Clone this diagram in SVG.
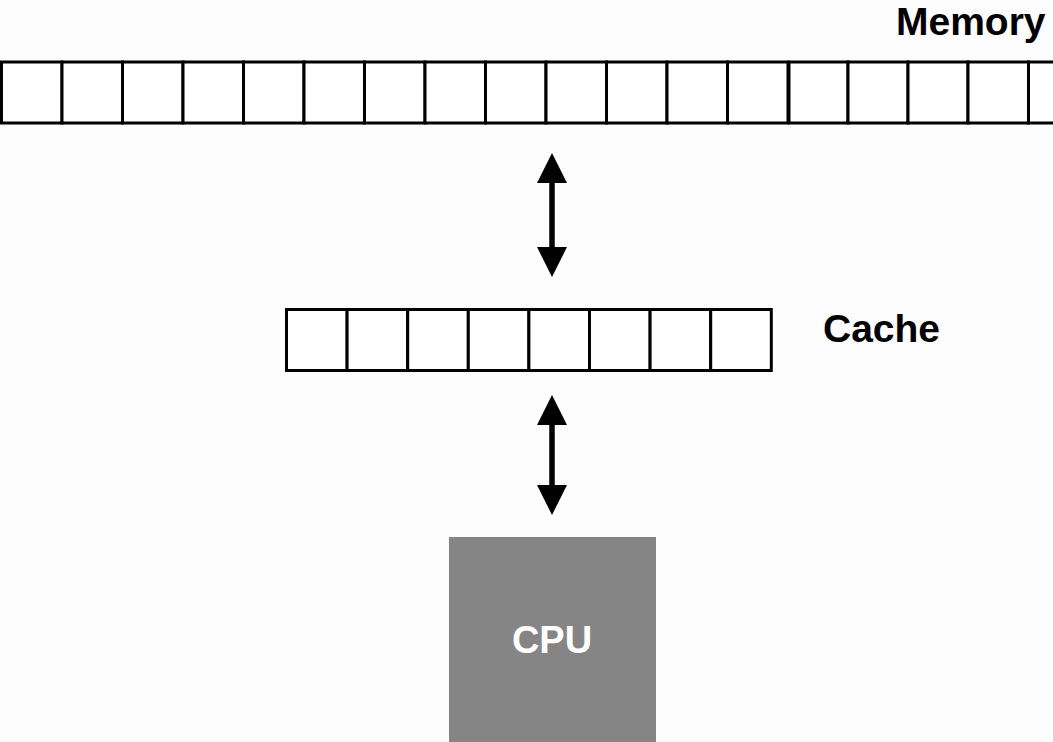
<svg xmlns="http://www.w3.org/2000/svg" width="1053" height="742" viewBox="0 0 1053 742">
<defs>
<style>
.cell{fill:#ffffff;stroke:#000000;stroke-width:3}
.lbl{font-family:"Liberation Sans",Arial,sans-serif;font-weight:bold;font-size:39px;fill:#000}
.shaft{stroke:#000;stroke-width:5.5}
.head{fill:#000}
</style>
</defs>
<rect width="1053" height="742" fill="#fdfdfd"/>
<g id="memory">
<rect class="cell" x="1.5" y="62" width="60.5" height="61"/>
<rect class="cell" x="62" y="62" width="60.5" height="61"/>
<rect class="cell" x="122.5" y="62" width="60.5" height="61"/>
<rect class="cell" x="183" y="62" width="60.5" height="61"/>
<rect class="cell" x="243.5" y="62" width="60.5" height="61"/>
<rect class="cell" x="304" y="62" width="60.5" height="61"/>
<rect class="cell" x="364.5" y="62" width="60.5" height="61"/>
<rect class="cell" x="425" y="62" width="60.5" height="61"/>
<rect class="cell" x="485.5" y="62" width="60.5" height="61"/>
<rect class="cell" x="546" y="62" width="60.5" height="61"/>
<rect class="cell" x="606.5" y="62" width="60.5" height="61"/>
<rect class="cell" x="667" y="62" width="60.5" height="61"/>
<rect class="cell" x="727.5" y="62" width="60.5" height="61"/>
<rect class="cell" x="789" y="62" width="59" height="61"/>
<rect class="cell" x="848" y="62" width="60" height="61"/>
<rect class="cell" x="908" y="62" width="60" height="61"/>
<rect class="cell" x="968" y="62" width="60.5" height="61"/>
<rect class="cell" x="1028.5" y="62" width="60.5" height="61"/>
<text class="lbl" x="896" y="35">Memory</text>
</g>
<g id="cache">
<rect class="cell" x="286.5" y="309.5" width="60.6" height="61"/>
<rect class="cell" x="347.1" y="309.5" width="60.6" height="61"/>
<rect class="cell" x="407.7" y="309.5" width="60.6" height="61"/>
<rect class="cell" x="468.3" y="309.5" width="60.6" height="61"/>
<rect class="cell" x="528.9" y="309.5" width="60.6" height="61"/>
<rect class="cell" x="589.5" y="309.5" width="60.6" height="61"/>
<rect class="cell" x="650.1" y="309.5" width="60.6" height="61"/>
<rect class="cell" x="710.7" y="309.5" width="60.6" height="61"/>
<text class="lbl" x="823" y="342">Cache</text>
</g>
<g id="cpu">
<rect x="449" y="537" width="207" height="210" fill="#858585"/>
<text class="lbl" x="552" y="653" text-anchor="middle" fill="#ffffff" style="fill:#ffffff;font-size:38px">CPU</text>
</g>
<g id="connectors">
<line class="shaft" x1="552" y1="180" x2="552" y2="250"/>
<polygon class="head" points="552,153 537,183 567,183"/>
<polygon class="head" points="552,277 537,247 567,247"/>
<line class="shaft" x1="552" y1="422" x2="552" y2="490"/>
<polygon class="head" points="552,395 537,425 567,425"/>
<polygon class="head" points="552,515 537,485 567,485"/>
</g>
</svg>
